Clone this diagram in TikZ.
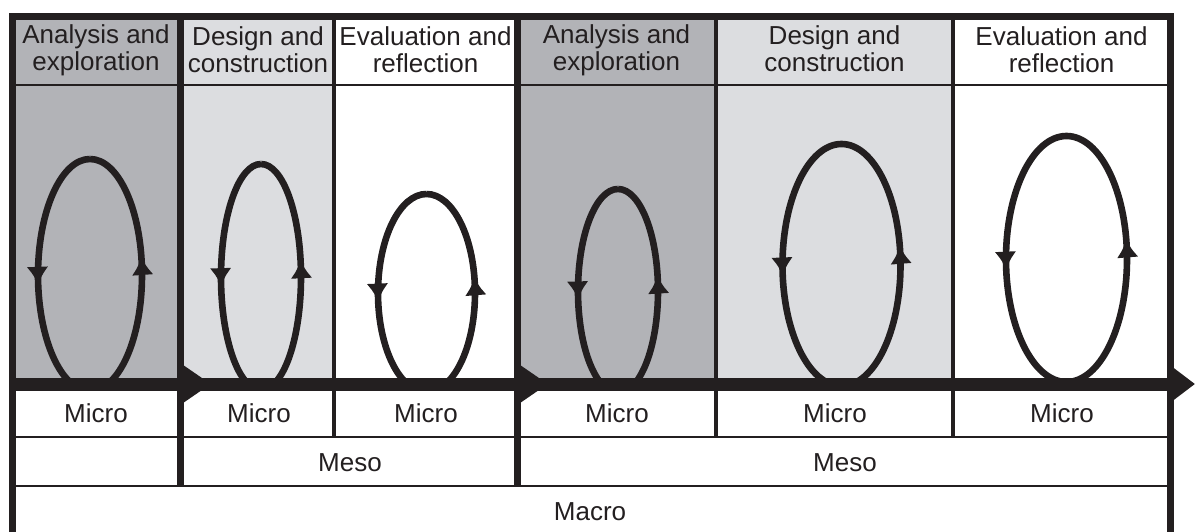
\documentclass[tikz,border=0pt]{standalone}
\usepackage{fontspec}
\setmainfont{Liberation Sans}
\usepackage{xcolor}
\usetikzlibrary{arrows.meta,decorations.markings}

\definecolor{ink}{RGB}{35,31,32}
\definecolor{darkpanel}{RGB}{178,179,183}
\definecolor{lightpanel}{RGB}{220,221,224}

\begin{document}
\begin{tikzpicture}[x=0.5pt, y=0.5pt,
    phasetext/.style={align=center, inner sep=0pt, text=ink, font=\fontsize{13}{13.5}\selectfont},
    leveltext/.style={inner sep=0pt, text=ink, font=\fontsize{13}{13.5}\selectfont},
    frame/.style={draw=ink, line width=3.5pt, line join=miter},
    divider/.style={draw=ink, line width=1.7pt},
    rowline/.style={draw=ink, line width=1.3pt},
    flow/.style={draw=ink, fill=ink, line width=6.5pt},
    phaseloop/.style={draw=ink, line width=3.3pt, postaction={decorate},
        decoration={markings,
            mark=at position 0.268 with {\arrow{Latex[length=9pt,width=11pt]}},
            mark=at position 0.783 with {\arrow{Latex[length=9pt,width=11pt]}}}}]
    \useasboundingbox (0,0) rectangle (1195,531);

    \fill[darkpanel] (12,147) rectangle (180,514);
    \fill[lightpanel] (180,147) rectangle (334,514);
    \fill[darkpanel] (517,147) rectangle (716,514);
    \fill[lightpanel] (716,147) rectangle (953,514);

    \begin{scope}
        \clip (12,147) rectangle (1170,446);
        \draw[phaseloop] (90,372) arc[start angle=90, end angle=450, x radius=52, y radius=116];
        \draw[phaseloop] (261,367) arc[start angle=90, end angle=450, x radius=40, y radius=113];
        \draw[phaseloop] (426.5,337) arc[start angle=90, end angle=450, x radius=48.5, y radius=99];
        \draw[phaseloop] (618,342) arc[start angle=90, end angle=450, x radius=40, y radius=102];
        \draw[phaseloop] (841.5,387) arc[start angle=90, end angle=450, x radius=59, y radius=121];
        \draw[phaseloop] (1066.5,395) arc[start angle=90, end angle=450, x radius=60.5, y radius=123];
    \end{scope}

    \draw[rowline] (12,446) -- (1170,446);
    \draw[rowline] (12,94) -- (1170,94);
    \draw[rowline] (12,45) -- (1170,45);
    \draw[divider] (334,514) -- (334,94);
    \draw[divider] (716,514) -- (716,94);
    \draw[divider] (953,514) -- (953,94);
    \draw[frame] (180,514) -- (180,45);
    \draw[frame] (517,514) -- (517,45);
    \draw[frame] (12,-10) -- (12,514) -- (1170,514) -- (1170,-10);

    \coordinate (start) at (10,147);
    \coordinate (cut1) at (180,147);
    \coordinate (cut2) at (517,147);
    \coordinate (tip1) at (211,147);
    \coordinate (tip2) at (548,147);
    \coordinate (tip3) at (1195,147);
    \draw[flow, -{Triangle[length=15.5pt,width=20pt]}] (start) -- (tip1);
    \draw[flow, -{Triangle[length=15.5pt,width=20pt]}] (cut1) -- (tip2);
    \draw[flow, -{Triangle[length=12.5pt,width=18pt]}] (cut2) -- (tip3);

    \node[phasetext] (head1) at (96,481) {Analysis and\\exploration};
    \node[phasetext] (head2) at (258,481) {Design and\\construction};
    \node[phasetext] (head3) at (425.5,481) {Evaluation and\\reflection};
    \node[phasetext] (head4) at (616.5,481) {Analysis and\\exploration};
    \node[phasetext] (head5) at (834.5,482) {Design and\\construction};
    \node[phasetext] (head6) at (1061.5,481) {Evaluation and\\reflection};

    \node[leveltext] (micro1) at (96,118) {Micro};
    \node[leveltext] (micro2) at (259,118) {Micro};
    \node[leveltext] (micro3) at (426,118) {Micro};
    \node[leveltext] (micro4) at (617,118) {Micro};
    \node[leveltext] (micro5) at (835,118) {Micro};
    \node[leveltext] (micro6) at (1062,118) {Micro};

    \node[leveltext] (meso1) at (350,68) {Meso};
    \node[leveltext] (meso2) at (845,68) {Meso};

    \node[leveltext] (macro) at (590,19) {Macro};
\end{tikzpicture}
\end{document}
